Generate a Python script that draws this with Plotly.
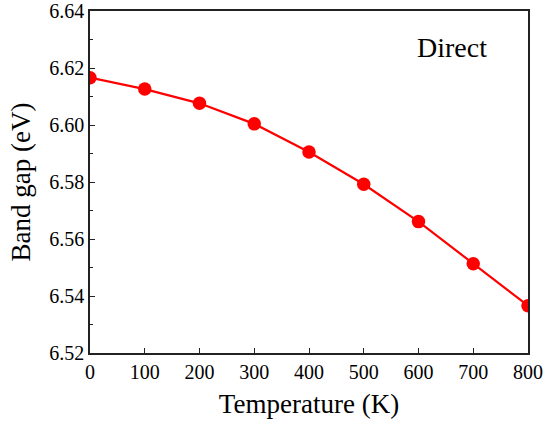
import plotly.graph_objects as go

temperature = [0, 100, 200, 300, 400, 500, 600, 700, 800]
band_gap = [6.6166, 6.6126, 6.6076, 6.6004, 6.5905, 6.5792, 6.5661, 6.5513, 6.5366]

FONT = "Liberation Serif, Times New Roman, serif"

fig = go.Figure()
fig.add_trace(go.Scatter(
    x=temperature, y=band_gap, mode="lines+markers",
    line=dict(color="#ff0000", width=2.2),
    marker=dict(color="#ff0000", size=13.5),
    cliponaxis=True, showlegend=False,
))

axis_common = dict(
    showgrid=False, zeroline=False, showline=True, linecolor="#222222", linewidth=1.5,
    mirror=True, ticks="inside", ticklen=5, tickcolor="#222222", tickwidth=1.2, automargin=False,
    tickfont=dict(family=FONT, size=20, color="black"),
)
fig.update_xaxes(range=[0, 800], dtick=100, tick0=0,
                 title=dict(text="Temperature (K)", font=dict(family=FONT, size=27, color="black"), standoff=12),
                 **axis_common)
fig.update_yaxes(range=[6.52, 6.64], dtick=0.02, tick0=6.52, tickformat=".2f",
                 minor=dict(ticks="inside", ticklen=3, dtick=0.01, tickcolor="#222222", tickwidth=1.2),
                 title=dict(text="Band gap (eV)", font=dict(family=FONT, size=27, color="black"), standoff=11),
                 **axis_common)

fig.add_annotation(x=0.827, y=0.892, xref="paper", yref="paper", text="Direct",
                   xanchor="center", yanchor="middle",
                   showarrow=False, font=dict(family=FONT, size=28, color="black"))

fig.update_layout(
    width=545, height=422,
    margin=dict(l=90, r=17, t=11, b=69),
    plot_bgcolor="white", paper_bgcolor="white",
)
fig.write_html("out.html", config={"displayModeBar": False},
               post_script="document.body.style.margin='0';")
